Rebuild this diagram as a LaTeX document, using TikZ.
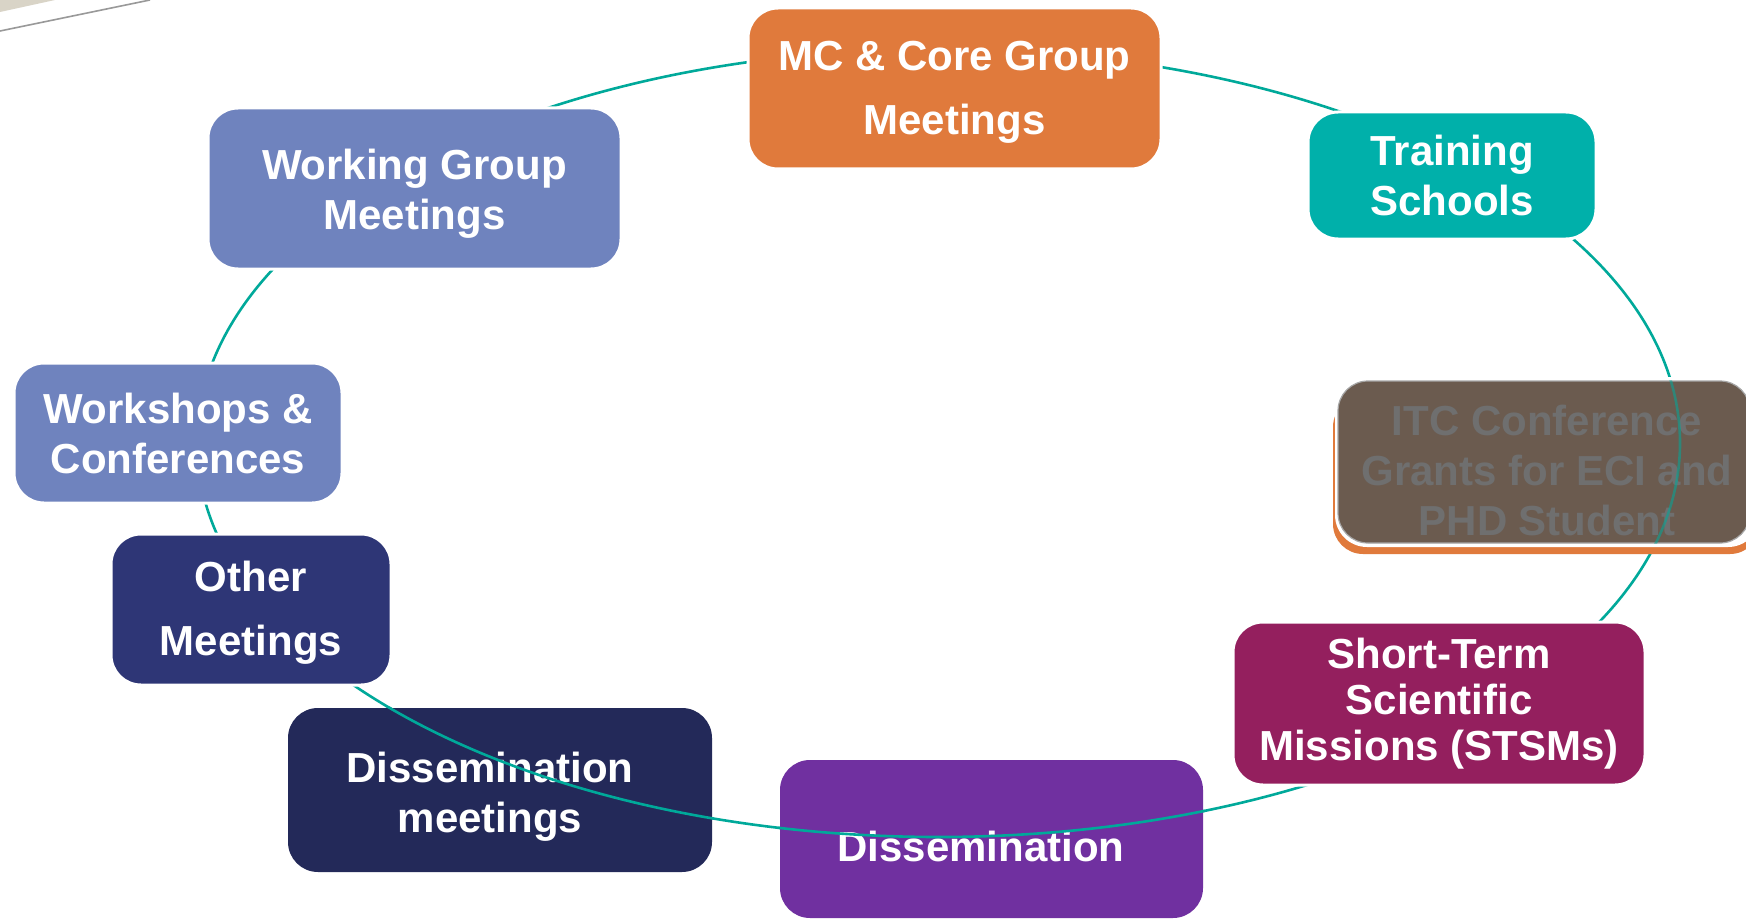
\documentclass[tikz,border=0pt]{standalone}
\usepackage{fontspec}
\setmainfont{Liberation Sans}
\definecolor{cOrange}{HTML}{E07A3C}
\definecolor{cTeal}{HTML}{00B0AA}
\definecolor{cLine}{HTML}{00A99A}
\definecolor{cBlueGrey}{HTML}{6F83BE}
\definecolor{cNavy}{HTML}{2E3676}
\definecolor{cDarkNavy}{HTML}{232959}
\definecolor{cPurple}{HTML}{7030A0}
\definecolor{cMagenta}{HTML}{941F5E}
\definecolor{cBrown}{HTML}{6B5B4F}
\definecolor{cGreyText}{HTML}{6F6F6F}
\definecolor{cBeige}{HTML}{D9D4C7}
\tikzset{
  box/.style={rounded corners=15pt, draw=white, line width=1.5pt, text=white,
    font=\bfseries\fontsize{21}{25}\selectfont, align=center, inner sep=0pt},
  widebox/.style={box, font=\bfseries\fontsize{21}{32}\selectfont},
  tightbox/.style={box, font=\bfseries\fontsize{21}{23}\selectfont},
  boxtext/.style={text=white, font=\bfseries\fontsize{21}{25}\selectfont, inner sep=0pt},
  cycleline/.style={draw=cLine, line width=1.3pt},
}
\begin{document}
\begin{tikzpicture}[x=0.5pt,y=-0.5pt]
\clip (0,0) rectangle (1746,920);
\fill[white] (0,0) rectangle (1746,920);
% decorative corner
\fill[cBeige] (0,0) -- (55,0) -- (0,12) -- cycle;
\draw[gray!80, line width=0.8pt] (0,31) -- (150,0);

% cycle ellipse (drawn beneath)
\coordinate (ctr) at (938.5,443);
\draw[cycleline] (ctr) ellipse [x radius=370.75pt, y radius=197pt];

% ITC box (faded)
\fill[cOrange, rounded corners=15pt] (1333,397) rectangle (1760,554);
\fill[white, rounded corners=16pt] (1335,377) rectangle (1760,547);
\node[box, draw=gray!70, line width=0.6pt, fill=cBrown, minimum width=206pt, minimum height=81pt] (itc) at (1544,462) {};
\node[text=cGreyText, font=\bfseries\fontsize{21}{25}\selectfont, align=center] (itctext) at (1547,470) {ITC Conference\\Grants for ECI and\\PHD Student};
\begin{scope}
  \clip[rounded corners=15pt] (itc.south west) rectangle (itc.north east);
  \draw[cycleline, draw opacity=0.55] (ctr) ellipse [x radius=370.75pt, y radius=197pt];
\end{scope}

% Dissemination boxes (line drawn over them)
\node[box, draw=none, fill=cDarkNavy, minimum width=212pt, minimum height=82pt] (dm) at (500,790) {};
\node[box, draw=none, fill=cPurple, minimum width=211.5pt, minimum height=79pt] (dis) at (991.5,839) {};
\node[boxtext, align=center] (dmtext) at (490,797) {Dissemination\\meetings};
\node[boxtext] (distext) at (981,846) {Dissemination};
\begin{scope}
  \clip[rounded corners=15pt] (dm.south west) rectangle (dm.north east);
  \draw[cycleline] (ctr) ellipse [x radius=370.75pt, y radius=197pt];
\end{scope}
\begin{scope}
  \clip[rounded corners=15pt] (dis.south west) rectangle (dis.north east);
  \draw[cycleline] (ctr) ellipse [x radius=370.75pt, y radius=197pt];
\end{scope}

% boxes above the line
\node[widebox, fill=cOrange, minimum width=206.5pt, minimum height=80.5pt] (mc) at (954.5,88.5) {\rule{0pt}{18pt}MC \& Core Group\\Meetings};
\node[box, fill=cTeal, minimum width=144pt, minimum height=63.5pt] (ts) at (1452,175.5) {Training\\Schools};
\node[tightbox, fill=cMagenta, minimum width=206pt, minimum height=81.5pt] (stsm) at (1439,703.5) {Short-Term\\Scientific\\Missions (STSMs)};
\node[widebox, fill=cNavy, minimum width=140pt, minimum height=75.5pt] (om) at (251,609.5) {\rule{0pt}{18pt}Other\\Meetings};
\node[box, fill=cBlueGrey, minimum width=164pt, minimum height=70pt] (wc) at (178,433) {Workshops \&\\Conferences};
\node[box, fill=cBlueGrey, minimum width=206.5pt, minimum height=80.5pt] (wg) at (414.5,188.5) {\rule{0pt}{20pt}Working Group\\Meetings};
\end{tikzpicture}
\end{document}
